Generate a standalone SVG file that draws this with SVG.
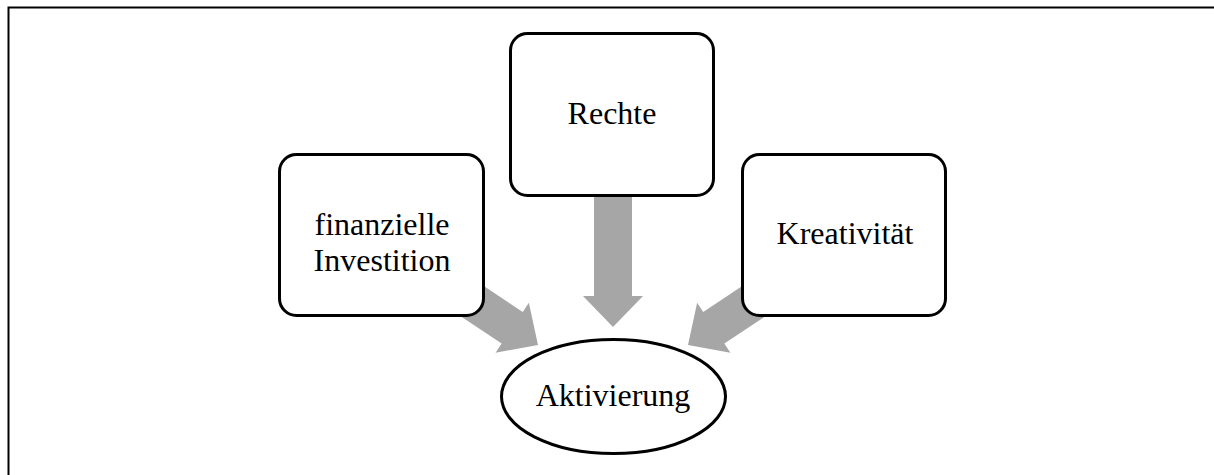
<svg xmlns="http://www.w3.org/2000/svg" xmlns:xlink="http://www.w3.org/1999/xlink" width="1214" height="475" viewBox="0 0 1214 475">
  <style>
    .frame { fill: none; stroke: #000; stroke-width: 2; }
    .box { fill: #fff; stroke: #000; stroke-width: 3; }
    .arrow { fill: #a6a6a6; stroke: none; }
    .label { font-family: "Liberation Serif", "Times New Roman", serif; font-size: 32px; fill: #000; text-anchor: middle; }
  </style>
  <defs>
    <!-- block arrow, tip at origin, pointing along +x -->
    <path id="blockArrow" d="M0,0 L-31,-30 L-31,-19 L-140,-19 L-140,19 L-31,19 L-31,30 Z"/>
  </defs>

  <rect x="0" y="0" width="1214" height="475" fill="#fff"/>
  <path class="frame" d="M8.5,475 V7.5 H1214"/>

  <g id="connectors">
    <use xlink:href="#blockArrow" class="arrow" transform="translate(538,345) rotate(33.7)"/>
    <use xlink:href="#blockArrow" class="arrow" transform="translate(613,327) rotate(90)"/>
    <use xlink:href="#blockArrow" class="arrow" transform="translate(688,345) rotate(146.3)"/>
  </g>

  <g id="node-investition">
    <rect class="box" x="279.5" y="154.5" width="204" height="161" rx="17"/>
    <text class="label" x="382" y="235">finanzielle</text>
    <text class="label" x="382" y="271">Investition</text>
  </g>

  <g id="node-rechte">
    <rect class="box" x="510.5" y="33.5" width="203" height="162" rx="17"/>
    <text class="label" x="612" y="124">Rechte</text>
  </g>

  <g id="node-kreativitaet">
    <rect class="box" x="742.5" y="154.5" width="203" height="161" rx="17"/>
    <text class="label" x="845" y="244">Kreativität</text>
  </g>

  <g id="node-aktivierung">
    <ellipse class="box" cx="613.5" cy="396.5" rx="112" ry="57"/>
    <text class="label" x="613" y="406">Aktivierung</text>
  </g>
</svg>
